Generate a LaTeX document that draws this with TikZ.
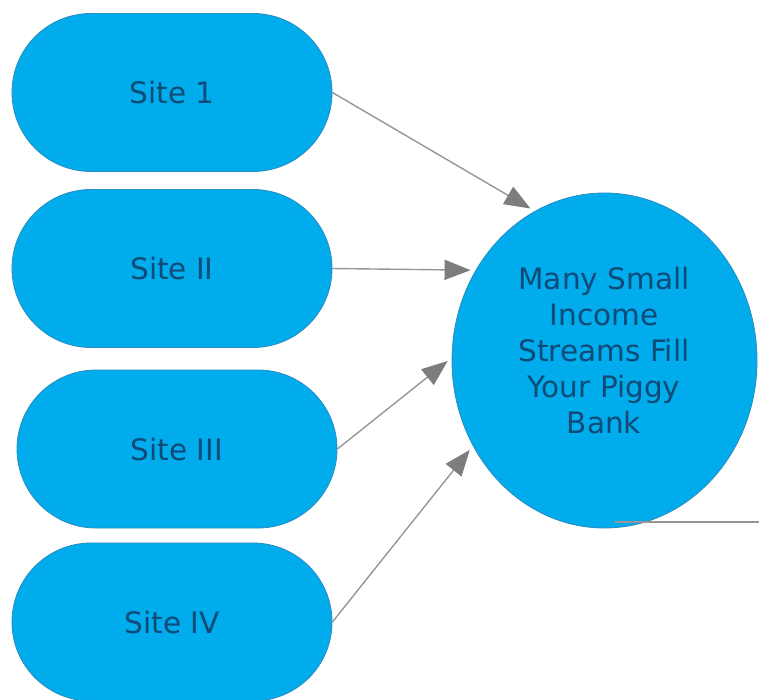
\documentclass[tikz,border=0pt]{standalone}
\usepackage{fontspec}
\setmainfont{DejaVu Sans}
\usetikzlibrary{shapes.geometric,arrows.meta}
\definecolor{sitefill}{RGB}{0,172,236}
\definecolor{siteedge}{RGB}{40,140,190}
\definecolor{sitetext}{RGB}{16,74,118}
\definecolor{linkgray}{RGB}{150,150,150}
\definecolor{tipgray}{RGB}{125,125,125}
\tikzset{
  sitebox/.style={draw=siteedge, line width=0.8pt, fill=sitefill,
    rounded corners=79pt, minimum width=320pt, minimum height=158pt,
    inner sep=0pt, text=sitetext, font=\fontsize{29.5}{34}\selectfont},
  hub/.style={draw=siteedge, line width=0.8pt, fill=sitefill, ellipse,
    minimum width=305pt, minimum height=335pt, inner sep=0pt},
  hubtext/.style={text=sitetext, align=center,
    font=\fontsize{29.5}{36}\selectfont},
  link/.style={draw=linkgray, line width=1.4pt,
    -{Triangle[length=26pt,width=20pt,fill=tipgray,color=tipgray]},
    shorten >=5pt},
  plainlink/.style={draw=linkgray, line width=1.4pt}
}
\begin{document}
\begin{tikzpicture}[x=1pt,y=-1pt]
  \useasboundingbox (0,0) rectangle (759,700);
  % income sources
  \node[sitebox] (s1) at (172,92.5) {Site 1};
  \node[sitebox] (s2) at (172,268.5) {Site II};
  \node[sitebox] (s3) at (177,449) {Site III};
  \node[sitebox] (s4) at (172,622) {Site IV};
  % collecting circle
  \node[hub] (c) at (604.5,360.5) {};
  \node[hubtext] (ctext) at (604,350)
    {Many Small\\Income\\Streams Fill\\Your Piggy\\Bank};
  % streams
  \draw[link] (s1.east) -- (c.115);
  \draw[link] (s2.east) -- (c.145.5);
  \draw[link] (s3.east) -- (c.179);
  \draw[link] (s4.east) -- (c.213.6);
  % outgoing line at the bottom
  \coordinate (tailA) at (615,522);
  \coordinate (tailB) at (759,522);
  \draw[plainlink] (tailA) -- (tailB);
\end{tikzpicture}
\end{document}
